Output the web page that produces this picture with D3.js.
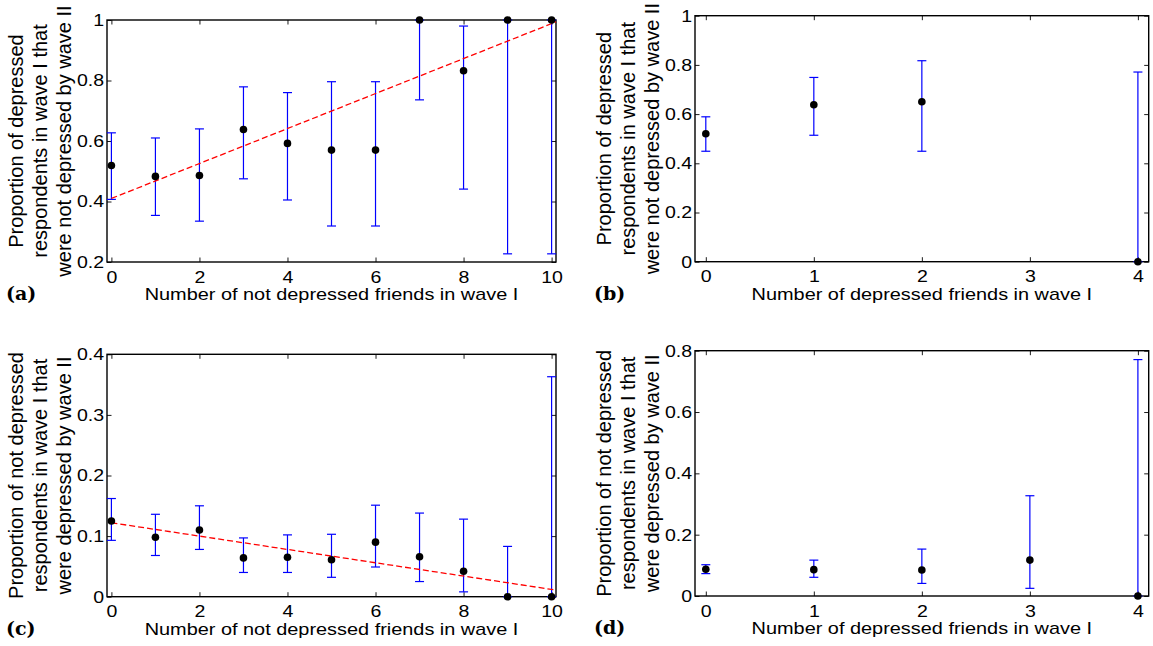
<!DOCTYPE html>
<html>
<head>
<meta charset="utf-8">
<script src="https://cdn.jsdelivr.net/npm/d3@7"></script>
<style>
  body { margin: 0; background: #fff; }
  svg { display: block; }
</style>
</head>
<body>
<div id="chart"></div>
<script>
// panel (a): depressed in wave I -> not depressed in wave II, by not depressed friends
const friendsA = [0, 1, 2, 3, 4, 5, 6, 7, 8, 9, 10]
const propA = [0.519, 0.483, 0.486, 0.638, 0.592, 0.570, 0.570, 1.0, 0.832, 1.0, 1.0]
const lowA = [0.407, 0.354, 0.335, 0.475, 0.405, 0.319, 0.319, 0.736, 0.441, 0.227, 0.227]
const highA = [0.627, 0.610, 0.640, 0.779, 0.760, 0.796, 0.796, 1.0, 0.980, 1.0, 1.0]
const fitA = [0.41, 0.0578] // intercept, slope

// panel (b): same outcome, by depressed friends
const friendsB = [0, 1, 2, 4]
const propB = [0.520, 0.638, 0.650, 0]
const lowB = [0.449, 0.514, 0.449, 0]
const highB = [0.589, 0.749, 0.817, 0.771]

// panel (c): not depressed in wave I -> depressed in wave II, by not depressed friends
const friendsC = [0, 1, 2, 3, 4, 5, 6, 7, 8, 9, 10]
const propC = [0.125, 0.098, 0.110, 0.064, 0.065, 0.061, 0.090, 0.066, 0.042, 0, 0]
const lowC = [0.093, 0.068, 0.078, 0.040, 0.040, 0.032, 0.049, 0.025, 0.008, 0, 0]
const highC = [0.162, 0.136, 0.150, 0.097, 0.102, 0.103, 0.151, 0.138, 0.128, 0.083, 0.363]
const fitC = [0.122, -0.011]

// panel (d): same outcome, by depressed friends
const friendsD = [0, 1, 2, 3, 4]
const propD = [0.087, 0.086, 0.085, 0.117, 0]
const lowD = [0.073, 0.061, 0.041, 0.025, 0]
const highD = [0.102, 0.117, 0.153, 0.327, 0.771]

const xTicksWide = [0, 2, 4, 6, 8, 10]
const xTicksNarrow = [0, 1, 2, 3, 4]
const yTicksA = [0.2, 0.4, 0.6, 0.8, 1]
const yTicksB = [0, 0.2, 0.4, 0.6, 0.8, 1]
const yTicksC = [0, 0.1, 0.2, 0.3, 0.4]
const yTicksD = [0, 0.2, 0.4, 0.6, 0.8]

const xLabelNotDep = "Number of not depressed friends in wave I"
const xLabelDep = "Number of depressed friends in wave I"
const yLabelTop = ["Proportion of depressed", "respondents in wave I that", "were not depressed by wave II"]
const yLabelBottom = ["Proportion of not depressed", "respondents in wave I that", "were depressed by wave II"]

const font = "'Liberation Sans', Arial, Helvetica, sans-serif"
const fontSize = 17

const svg = d3.select("#chart").append("svg")
  .attr("width", 1153)
  .attr("height", 646)

function panel(opts) {
  const g = svg.append("g")
  const x = d3.scaleLinear().domain(opts.xDomain).range([opts.left, opts.right])
  const y = d3.scaleLinear().domain(opts.yDomain).range([opts.bottom, opts.top])

  // ticks, MATLAB style: inside, on all four sides
  const ax = g.append("g")
    .attr("transform", "translate(0," + opts.bottom + ")")
    .call(d3.axisBottom(x).tickValues(opts.xTicks).tickSizeInner(-4.5).tickSizeOuter(0).tickPadding(8.5).tickFormat(d => String(d)))
  const ay = g.append("g")
    .attr("transform", "translate(" + opts.left + ",0)")
    .call(d3.axisLeft(y).tickValues(opts.yTicks).tickSizeInner(-4.5).tickSizeOuter(0).tickPadding(2.5).tickFormat(d => String(d)))
  const axTop = g.append("g")
    .attr("transform", "translate(0," + opts.top + ")")
    .call(d3.axisTop(x).tickValues(opts.xTicks).tickSizeInner(-4.5).tickSizeOuter(0).tickFormat(""))
  const ayRight = g.append("g")
    .attr("transform", "translate(" + opts.right + ",0)")
    .call(d3.axisRight(y).tickValues(opts.yTicks).tickSizeInner(-4.5).tickSizeOuter(0).tickFormat(""))

  ;[ax, ay, axTop, ayRight].forEach(a => {
    a.select(".domain").remove()
    a.attr("font-family", font).attr("font-size", fontSize)
    a.selectAll(".tick line").attr("stroke", "#000").attr("stroke-width", 0.9)
    a.selectAll(".tick text").attr("fill", "#000").attr("transform", "scale(1.15,1)")
  })

  g.append("rect")
    .attr("x", opts.left)
    .attr("y", opts.top)
    .attr("width", opts.right - opts.left)
    .attr("height", opts.bottom - opts.top)
    .attr("fill", "none")
    .attr("stroke", "#000")
    .attr("stroke-width", 1.4)

  const rows = opts.xs.map((v, i) => ({ x: v, p: opts.ps[i], lo: opts.los[i], hi: opts.his[i] }))

  // error bars
  const bars = g.append("g").attr("stroke", "#0000ff").attr("stroke-width", 1.2).attr("fill", "none")
  bars.selectAll(".v").data(rows).join("line")
    .attr("x1", d => x(d.x)).attr("x2", d => x(d.x))
    .attr("y1", d => y(d.lo)).attr("y2", d => y(d.hi))
  bars.selectAll(".lo").data(rows).join("line")
    .attr("x1", d => x(d.x) - 4.5).attr("x2", d => x(d.x) + 4.5)
    .attr("y1", d => y(d.lo)).attr("y2", d => y(d.lo))
  bars.selectAll(".hi").data(rows).join("line")
    .attr("x1", d => x(d.x) - 4.5).attr("x2", d => x(d.x) + 4.5)
    .attr("y1", d => y(d.hi)).attr("y2", d => y(d.hi))

  if (opts.fit) {
    const ends = [0, opts.xDomain[1]]
    g.append("line")
      .attr("x1", x(ends[0])).attr("y1", y(opts.fit[0] + opts.fit[1] * ends[0]))
      .attr("x2", x(ends[1])).attr("y2", y(opts.fit[0] + opts.fit[1] * ends[1]))
      .attr("stroke", "#ff0000")
      .attr("stroke-width", 1.3)
      .attr("stroke-dasharray", "6,3")
  }

  g.append("g").selectAll("circle").data(rows).join("circle")
    .attr("cx", d => x(d.x))
    .attr("cy", d => y(d.p))
    .attr("r", 3.8)
    .attr("fill", "#000")

  // x label
  g.append("text")
    .attr("transform", "translate(" + (opts.left + opts.right) / 2 + "," + (opts.bottom + 38) + ") scale(1.17,1)")
    .attr("text-anchor", "middle")
    .attr("font-family", font)
    .attr("font-size", fontSize)
    .text(opts.xLabel)

  // y label, three lines
  const cy = (opts.top + opts.bottom) / 2
  opts.yLabel.forEach((line, i) => {
    g.append("text")
      .attr("transform", "translate(" + (opts.left - 84 + i * 24) + "," + cy + ") rotate(-90)")
      .attr("text-anchor", "middle")
      .attr("font-family", font)
      .attr("font-size", 20)
      .text(line)
  })

  g.append("text")
    .attr("x", opts.letterX)
    .attr("y", opts.bottom + 38)
    .attr("font-family", "'DejaVu Serif', serif")
    .attr("font-weight", "bold")
    .attr("font-size", 19)
    .text(opts.letter)
}

panel({
  left: 107, right: 556, top: 20, bottom: 262,
  xDomain: [-0.1, 10.1], yDomain: [0.2, 1],
  xTicks: xTicksWide, yTicks: yTicksA,
  xs: friendsA, ps: propA, los: lowA, his: highA, fit: fitA,
  xLabel: xLabelNotDep, yLabel: yLabelTop, letter: "(a)", letterX: 6
})
panel({
  left: 695, right: 1148.7, top: 15.7, bottom: 261.7,
  xDomain: [-0.1, 4.1], yDomain: [0, 1],
  xTicks: xTicksNarrow, yTicks: yTicksB,
  xs: friendsB, ps: propB, los: lowB, his: highB,
  xLabel: xLabelDep, yLabel: yLabelTop, letter: "(b)", letterX: 594
})
panel({
  left: 107, right: 556, top: 354.3, bottom: 596.7,
  xDomain: [-0.1, 10.1], yDomain: [0, 0.4],
  xTicks: xTicksWide, yTicks: yTicksC,
  xs: friendsC, ps: propC, los: lowC, his: highC, fit: fitC,
  xLabel: xLabelNotDep, yLabel: yLabelBottom, letter: "(c)", letterX: 6
})
panel({
  left: 695, right: 1148.7, top: 350.7, bottom: 596,
  xDomain: [-0.1, 4.1], yDomain: [0, 0.8],
  xTicks: xTicksNarrow, yTicks: yTicksD,
  xs: friendsD, ps: propD, los: lowD, his: highD,
  xLabel: xLabelDep, yLabel: yLabelBottom, letter: "(d)", letterX: 594
})
</script>
</body>
</html>
